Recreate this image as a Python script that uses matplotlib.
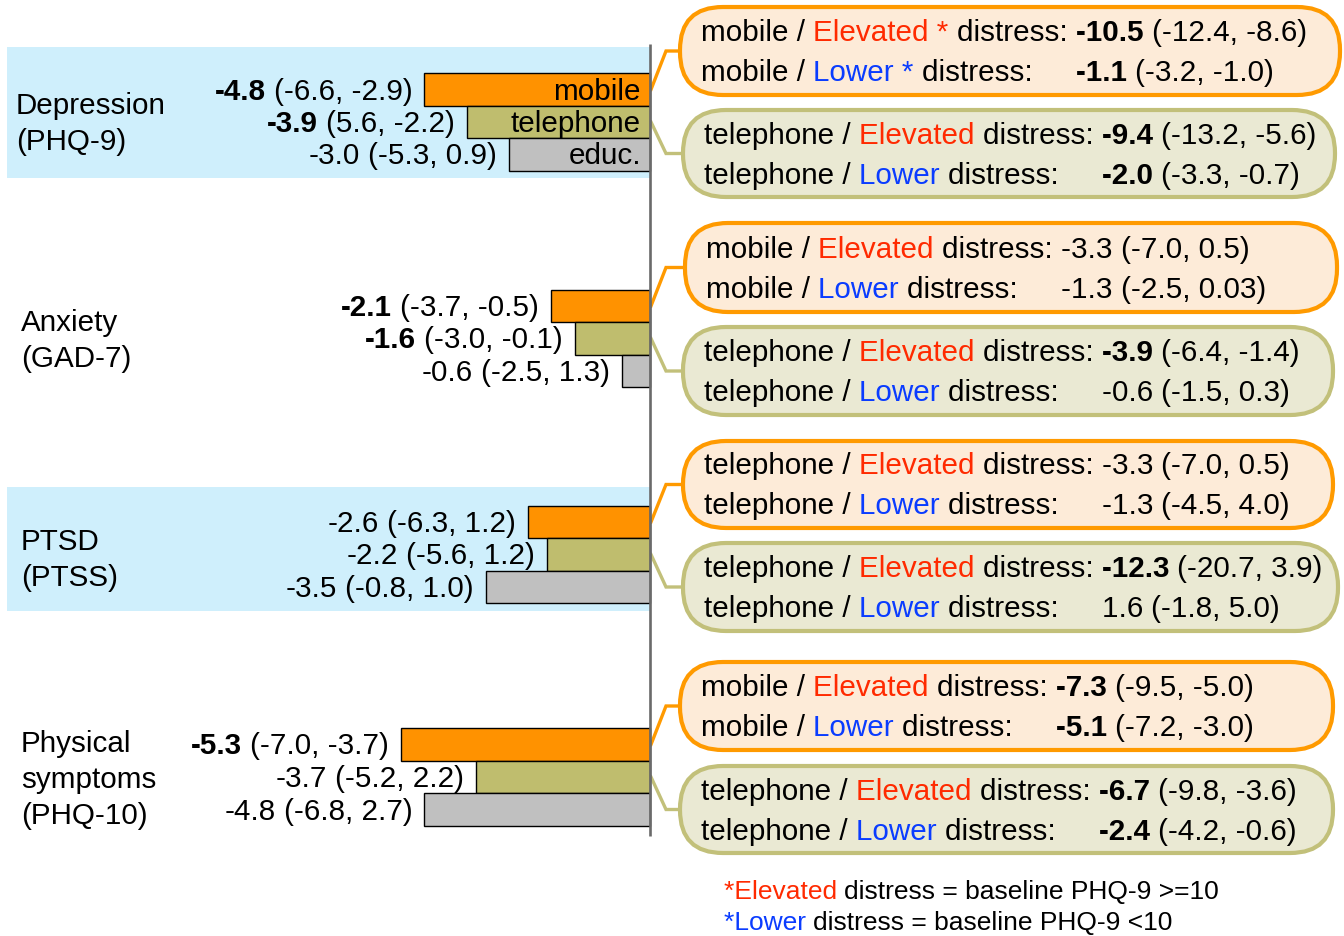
import matplotlib
matplotlib.use("Agg")
import matplotlib.pyplot as plt
from matplotlib.patches import FancyBboxPatch, Rectangle

# ---------------- data ----------------
outcome_lines = [["Depression", "(PHQ-9)"], ["Anxiety", "(GAD-7)"],
                 ["PTSD", "(PTSS)"], ["Physical", "symptoms", "(PHQ-10)"]]
arms = ["mobile", "telephone", "educ."]

mobile_eff = [-4.8, -2.1, -2.6, -5.3]
mobile_lo = [-6.6, -3.7, -6.3, -7.0]
mobile_hi = [-2.9, -0.5, 1.2, -3.7]
mobile_sig = [True, True, False, True]

tele_eff = [-3.9, -1.6, -2.2, -3.7]
tele_lo = [5.6, -3.0, -5.6, -5.2]
tele_hi = [-2.2, -0.1, 1.2, 2.2]
tele_sig = [True, True, False, False]

educ_eff = [-3.0, -0.6, -3.5, -4.8]
educ_lo = [-5.3, -2.5, -0.8, -6.8]
educ_hi = [0.9, 1.3, 1.0, 2.7]
educ_sig = [False, False, False, False]

# subgroup boxes (two per outcome)
sub_arm = ["mobile", "telephone", "mobile", "telephone",
           "telephone", "telephone", "mobile", "telephone"]
elev_eff = [-10.5, -9.4, -3.3, -3.9, -3.3, -12.3, -7.3, -6.7]
elev_lo = [-12.4, -13.2, -7.0, -6.4, -7.0, -20.7, -9.5, -9.8]
elev_hi = [-8.6, -5.6, 0.5, -1.4, 0.5, 3.9, -5.0, -3.6]
elev_sig = [True, True, False, True, False, True, True, True]
low_eff = [-1.1, -2.0, -1.3, -0.6, -1.3, 1.6, -5.1, -2.4]
low_lo = [-3.2, -3.3, -2.5, -1.5, -4.5, -1.8, -7.2, -4.2]
low_hi = [-1.0, -0.7, 0.03, 0.3, 4.0, 5.0, -3.0, -0.6]
low_sig = [True, True, False, False, False, False, True, True]
sub_star = [True, False, False, False, False, False, False, False]

footnotes = [("*Elevated", "distress = baseline PHQ-9 >=10"),
             ("*Lower", "distress = baseline PHQ-9 <10")]

# ---------------- style ----------------
W, H = 1344, 936
plt.rcParams['font.family'] = ["Liberation Sans", "DejaVu Sans"]
FS = 21.3
ORANGE = "#ff9200"
OLIVE = "#bfbd6e"
GRAY = "#c0c0c0"
BOX_FILL = ["#fdebd8", "#eae9d3"]
BOX_EDGE = ["#ff9a00", "#c2c07a"]
RED = "#ff2a00"
BLUE = "#0a3cff"
BAND = "#cfeffc"
DY = 2.0  # small downward shift of text baselines

ZERO_X = 650.0
PX_PER_UNIT = 47.0
group_top_center = [89.5, 306.0, 522.0, 744.5]
bar_step = 32.5
label_center = [124, 341, 560, 780]

fig = plt.figure(figsize=(W / 100, H / 100), dpi=100)
ov = fig.add_axes([0, 0, 1, 1], zorder=1)
ov.set_xlim(0, W)
ov.set_ylim(H, 0)
ov.axis('off')
axb = fig.add_axes([0, 0, 1, 1], zorder=2)
axb.set_xlim(-ZERO_X / PX_PER_UNIT, (W - ZERO_X) / PX_PER_UNIT)
axb.set_ylim(H, 0)
axb.axis('off')

renderer = fig.canvas.get_renderer()


def measure(s, **kw):
    t = ov.text(0, 0, s + "|", **kw)
    w1 = t.get_window_extent(renderer).width
    t.set_text("|")
    w2 = t.get_window_extent(renderer).width
    t.remove()
    return w1 - w2


def fmt(v):
    s = f"{v:.1f}"
    if abs(float(s) - v) > 1e-9:
        s = f"{v:.2f}"
    return s


# background bands
ov.add_patch(Rectangle((7, 47), ZERO_X - 7, 131, facecolor=BAND, edgecolor='none', zorder=0))
ov.add_patch(Rectangle((7, 487), ZERO_X - 7, 124, facecolor=BAND, edgecolor='none', zorder=0))

# outcome labels
for g, lines in enumerate(outcome_lines):
    n = len(lines)
    x0 = 16 if g == 0 else 21
    for i, s in enumerate(lines):
        y = label_center[g] + (i - (n - 1) / 2) * 36
        ov.text(x0, y, s, fontsize=FS, ha='left', va='center', color='black')

# bars
series = [(mobile_eff, mobile_lo, mobile_hi, mobile_sig, ORANGE),
          (tele_eff, tele_lo, tele_hi, tele_sig, OLIVE),
          (educ_eff, educ_lo, educ_hi, educ_sig, GRAY)]
bar_y = {}
for a, (eff, lo, hi, sig, col) in enumerate(series):
    ys = [group_top_center[g] + a * bar_step for g in range(len(eff))]
    bar_y[a] = ys
    axb.barh(ys, eff, height=bar_step, color=col, edgecolor='black', linewidth=1.0, zorder=2)
    for g in range(len(eff)):
        ci = f"({fmt(lo[g])}, {fmt(hi[g])})"
        val = fmt(eff[g])
        t = axb.annotate(ci, xy=(eff[g], ys[g]), xytext=(-12, -DY), textcoords='offset pixels',
                         ha='right', va='center', fontsize=FS, zorder=3)
        wci = t.get_window_extent(renderer).width
        gap = 0.278 * FS * 100 / 72
        axb.annotate(val, xy=(eff[g], ys[g]), xytext=(-12 - wci - gap, -DY),
                     textcoords='offset pixels', ha='right', va='center', fontsize=FS,
                     fontweight='bold' if sig[g] else 'normal', zorder=3)
    # inner arm label in first group
    axb.annotate(arms[a], xy=(0, ys[0]), xytext=(-9, -DY), textcoords='offset pixels',
                 ha='right', va='center', fontsize=FS, zorder=3)

# zero line
axb.plot([0, 0], [44, 836], color='#6a6a6a', lw=1.9, zorder=4, solid_capstyle='butt')

# subgroup boxes
box_geom = [(680, 1340, 7, 95), (683, 1335, 110, 197),
            (685, 1337, 223, 312), (683, 1333, 327, 415),
            (683, 1333, 441, 528), (683, 1338, 543, 631),
            (680, 1333, 662, 750), (680, 1333, 766, 853)]


def draw_runs(x, y, runs):
    for s, color, weight in runs:
        ov.text(x, y, s, color=color, fontweight=weight, fontsize=FS, ha='left', va='center', zorder=5)
        x += measure(s, fontsize=FS, fontweight=weight)
    return x


for k in range(len(sub_arm)):
    x0, x1, y0, y1 = box_geom[k]
    arm = sub_arm[k]
    c = k % 2
    box = FancyBboxPatch((x0, y0), x1 - x0, y1 - y0,
                         boxstyle="round,pad=0,rounding_size=43",
                         facecolor=BOX_FILL[c], edgecolor=BOX_EDGE[c], lw=3, zorder=3)
    ov.add_patch(box)
    cy = (y0 + y1) / 2
    # connector
    g = k // 2
    sy = bar_y[c][g]
    ov.plot([ZERO_X + 1, 666, x0], [sy, cy, cy], color=BOX_EDGE[c], lw=2.4, zorder=2,
            solid_joinstyle='miter')
    tx = x0 + 21
    st = " *" if sub_star[k] else ""
    y1t = cy - 20 + DY
    y2t = cy + 20 + DY
    xv = draw_runs(tx, y1t, [(f"{arm} / ", 'black', 'normal'),
                             (f"Elevated{st} ", RED, 'normal'),
                             ("distress: ", 'black', 'normal')])
    draw_runs(xv, y1t, [(f"{fmt(elev_eff[k])} ", 'black', 'bold' if elev_sig[k] else 'normal'),
                        (f"({fmt(elev_lo[k])}, {fmt(elev_hi[k])})", 'black', 'normal')])
    xp = draw_runs(tx, y2t, [(f"{arm} / ", 'black', 'normal'),
                             (f"Lower{st} ", BLUE, 'normal'),
                             ("distress: ", 'black', 'normal')])
    draw_runs(max(xp, xv), y2t,
              [(f"{fmt(low_eff[k])} ", 'black', 'bold' if low_sig[k] else 'normal'),
               (f"({fmt(low_lo[k])}, {fmt(low_hi[k])})", 'black', 'normal')])

# footnotes
for i, (c, rest) in enumerate(footnotes):
    y = 892 + i * 31
    col = RED if i == 0 else BLUE
    ov.text(724, y, c + " ", color=col, fontsize=19, ha='left', va='center')
    w = measure(c + " ", fontsize=19)
    ov.text(724 + w, y, rest, color='black', fontsize=19, ha='left', va='center')

fig.savefig("out.png", dpi=100)
